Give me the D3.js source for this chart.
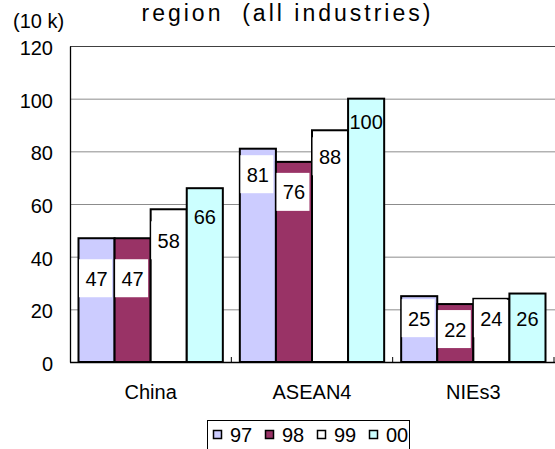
<!DOCTYPE html>
<html>
<head>
<meta charset="utf-8">
<script src="https://cdn.jsdelivr.net/npm/d3@7"></script>
<style>
  html, body { margin: 0; padding: 0; background: #fff; }
  svg { display: block; font-family: "Liberation Sans", Arial, sans-serif; }
</style>
</head>
<body>
<svg id="chart" width="555" height="449"></svg>
<script>
// Employment by region, four survey years (unit: 10 thousand)
const categories = ["China", "ASEAN4", "NIEs3"];
const seriesNames = ["97", "98", "99", "00"];
const values97 = [47, 81, 25];
const values98 = [47, 76, 22];
const values99 = [58, 88, 24];
const values00 = [66, 100, 26];
const yTickValues = [0, 20, 40, 60, 80, 100, 120];

const seriesValues = [values97, values98, values99, values00];
const seriesColors = ["#CCCCFF", "#993366", "#FFFFFF", "#CCFFFF"];
const labelBoxed = [true, true, true, false];
// how far (px) each value label sits below the top of its bar, per category then series
const labelDrop = [
  [40, 40, 31, 28.5],
  [25.5, 30, 26, 23],
  [22, 25, 19.5, 24.5]
];

const svg = d3.select("#chart");
const plot = { left: 70, top: 46, right: 554, bottom: 362 };

const y = d3.scaleLinear().domain([0, 120]).range([plot.bottom, plot.top]);
const x = d3.scaleBand().domain(categories).range([plot.left, plot.right]).padding(0);
const inner = d3.scaleBand().domain(seriesNames)
  .range([8.5, x.bandwidth() - 8.5]).padding(0);

// gridlines
svg.append("g")
  .attr("transform", `translate(${plot.left},0)`)
  .call(d3.axisLeft(y).tickValues(yTickValues.filter(v => v > 0 && v < 120))
    .tickSize(-(556 - plot.left)).tickFormat(""))
  .call(g => g.select(".domain").remove())
  .call(g => g.selectAll("line").attr("stroke", "#8c8c8c").attr("stroke-width", 1));

// top frame line
svg.append("line")
  .attr("x1", plot.left).attr("x2", 556)
  .attr("y1", y(120) + 0.5).attr("y2", y(120) + 0.5)
  .attr("stroke", "#404040").attr("stroke-width", 1.2);

// bars
const rows = [];
categories.forEach((c, ci) => {
  seriesNames.forEach((s, si) => {
    rows.push({ c, ci, s, si, v: seriesValues[si][ci] });
  });
});

const barG = svg.append("g");
barG.selectAll("rect")
  .data(rows)
  .join("rect")
  .attr("x", d => x(d.c) + inner(d.s))
  .attr("y", d => y(d.v))
  .attr("width", inner.bandwidth())
  .attr("height", d => y(0) - y(d.v))
  .attr("fill", d => seriesColors[d.si])
  .attr("stroke", "#000")
  .attr("stroke-width", 2);

// y axis
svg.append("g")
  .attr("transform", `translate(${plot.left},0)`)
  .call(d3.axisLeft(y).tickValues(yTickValues).tickSize(0).tickPadding(17))
  .call(g => g.select(".domain").attr("stroke", "#000").attr("stroke-width", 1.3))
  .call(g => g.selectAll("text")
    .attr("font-size", 20).attr("fill", "#000")
    .attr("font-family", "'Liberation Sans', Arial, sans-serif")
    .attr("dy", "0.42em"));

// x axis
svg.append("g")
  .attr("transform", `translate(0,${plot.bottom})`)
  .call(d3.axisBottom(x).tickSize(0).tickPadding(23))
  .call(g => g.select(".domain").attr("d", `M${plot.left},0.5H556`)
    .attr("stroke", "#000").attr("stroke-width", 1.3))
  .call(g => g.selectAll("text")
    .attr("font-size", 20).attr("fill", "#000")
    .attr("font-family", "'Liberation Sans', Arial, sans-serif"));

// category separators (short ticks pointing up)
svg.append("g").selectAll("line")
  .data(categories)
  .join("line")
  .attr("x1", d => x(d) + x.bandwidth())
  .attr("x2", d => x(d) + x.bandwidth())
  .attr("y1", plot.bottom)
  .attr("y2", plot.bottom - 5)
  .attr("stroke", "#000").attr("stroke-width", 1);

// value labels
const labG = svg.append("g");
rows.forEach(d => {
  const cx = x(d.c) + inner(d.s) + inner.bandwidth() / 2;
  const cy = y(d.v) + labelDrop[d.ci][d.si];
  if (labelBoxed[d.si]) {
    labG.append("rect")
      .attr("x", cx - 17.5).attr("y", cy - 19)
      .attr("width", 33).attr("height", 38)
      .attr("fill", "#fff");
  }
  labG.append("text")
    .attr("x", cx).attr("y", cy + 7.5)
    .attr("text-anchor", "middle")
    .attr("font-size", 20)
    .attr("fill", "#000")
    .text(d.v);
});

// title and unit
svg.append("text")
  .attr("x", 141.5).attr("y", 21)
  .attr("font-size", 23)
  .attr("letter-spacing", 3)
  .style("white-space", "pre")
  .attr("fill", "#000")
  .text("region  (all industries)");

svg.append("text")
  .attr("x", 13).attr("y", 28)
  .attr("font-size", 20)
  .attr("fill", "#000")
  .text("(10 k)");

// legend
const legend = svg.append("g");
legend.append("rect")
  .attr("x", 207.5).attr("y", 420.5)
  .attr("width", 202).attr("height", 40)
  .attr("fill", "#fff").attr("stroke", "#000").attr("stroke-width", 1);

const legendX = d3.scalePoint().domain(seriesNames).range([213, 369]);
seriesNames.forEach((s, si) => {
  legend.append("rect")
    .attr("x", legendX(s) + 0.5).attr("y", 430.5)
    .attr("width", 8).attr("height", 8)
    .attr("fill", seriesColors[si])
    .attr("stroke", "#000").attr("stroke-width", 1.5);
  legend.append("text")
    .attr("x", legendX(s) + 17).attr("y", 442)
    .attr("font-size", 20)
    .attr("fill", "#000")
    .text(s);
});
</script>
</body>
</html>
